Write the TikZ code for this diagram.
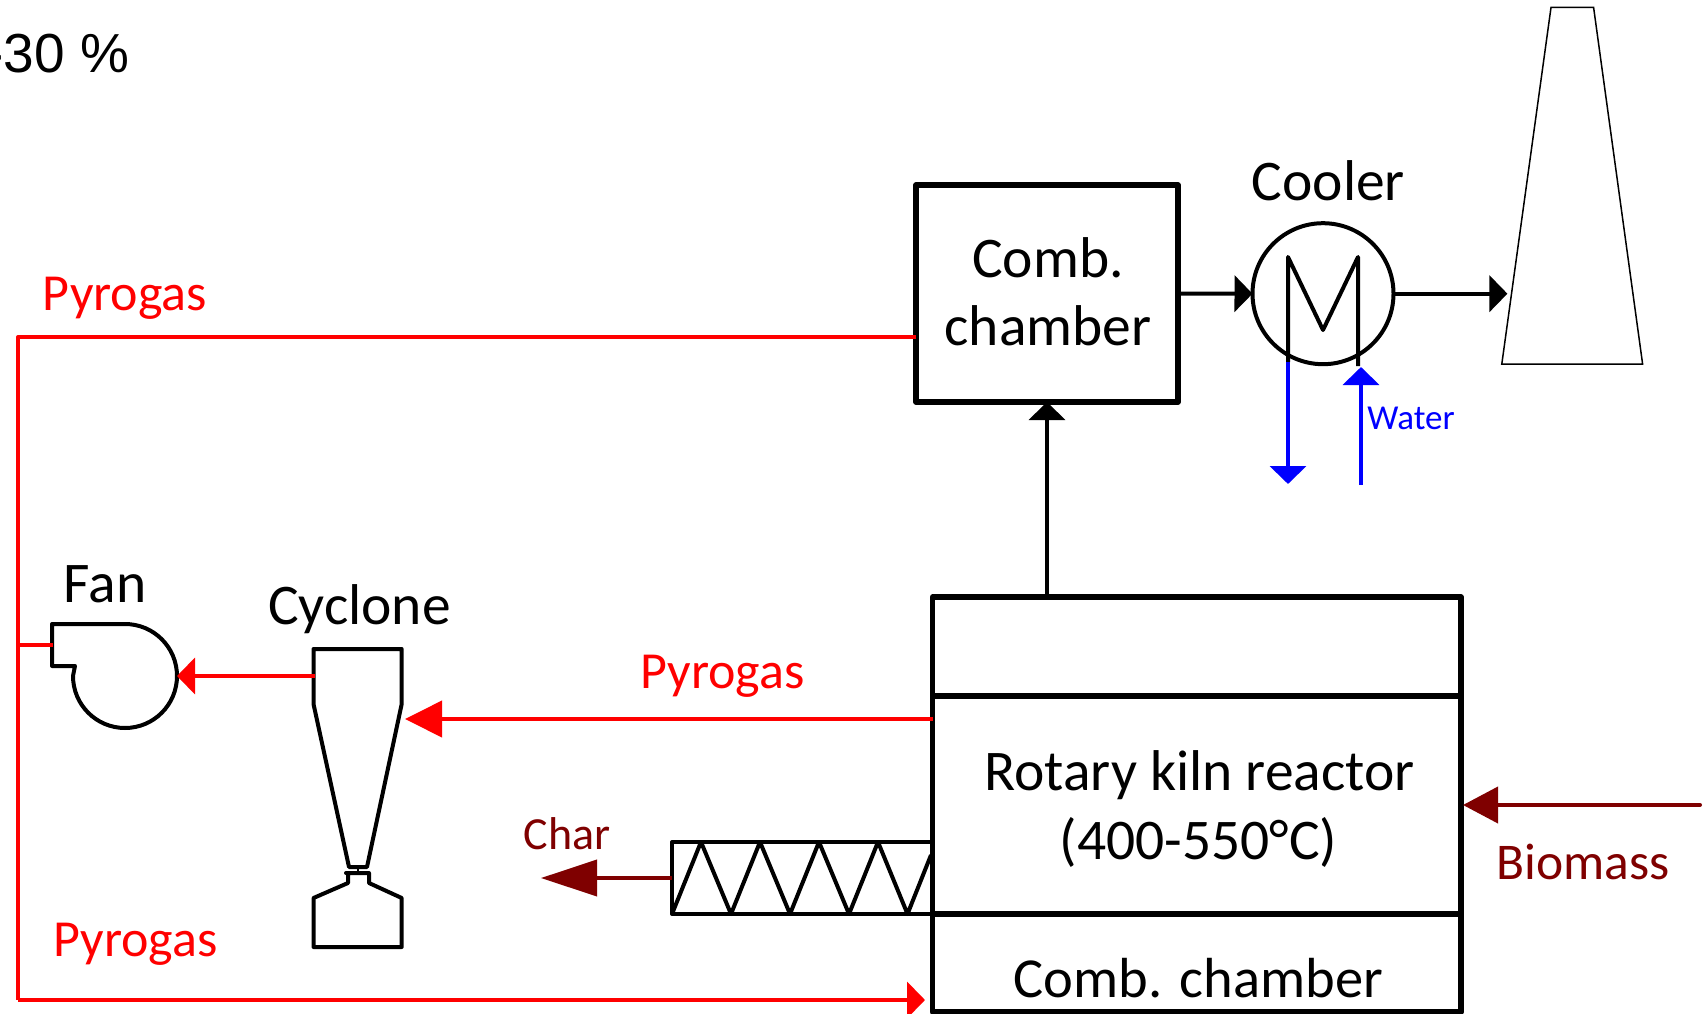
\documentclass[tikz,border=0pt]{standalone}
\usepackage{fontspec}
\setmainfont{Carlito}
\newfontfamily\arialfont{Liberation Sans}
\usetikzlibrary{arrows.meta}
\definecolor{maroonc}{HTML}{7F0000}
\definecolor{bluec}{HTML}{0000FF}
\definecolor{redc}{HTML}{FF0000}
\tikzset{
  x=1pt,y=-1pt,
  boxs/.style={draw=black,line width=5.2pt,inner sep=0pt,outer sep=0pt,line join=round,fill=white},
  shapes/.style={draw=black,line width=4pt,line join=round},
  big/.style={anchor=base,inner sep=0pt,outer sep=0pt,font=\fontsize{57.5}{66}\selectfont},
  lab/.style={anchor=base,inner sep=0pt,outer sep=0pt,font=\fontsize{52}{60}\selectfont,text=redc},
  small/.style={anchor=base,inner sep=0pt,outer sep=0pt},
  flow/.style={line width=#1,-{Triangle[length=18pt,width=36pt]}},
  flow/.default=4pt,
}
\begin{document}
\begin{tikzpicture}
\useasboundingbox (0,0) rectangle (1706,1014);
% coordinates
\coordinate (tl) at (18,337);
\coordinate (bl) at (18,1000);
\coordinate (junc) at (18,645);
\coordinate (fanout) at (53,645);
\coordinate (fanin) at (177,676);
\coordinate (cycout) at (315,676);
\coordinate (cycin) at (405,719);
\coordinate (bioS) at (1700,805);
\coordinate (charS) at (672,878);
\coordinate (charE) at (541,878);
\coordinate (wOutS) at (1288,362);
\coordinate (wOutE) at (1288,484);
\coordinate (wInS) at (1361,485);
\coordinate (wInE) at (1361,367);
\coordinate (stackin) at (1507.4,293.7);
% boxes
\node[boxs,minimum width=262pt,minimum height=217pt] (comb) at (1047,293.5) {};
\node[boxs,minimum width=528.4pt,minimum height=99pt] (kilntop) at (1196.8,646.5) {};
\node[boxs,minimum width=528.4pt,minimum height=218pt] (kilnmid) at (1196.8,805) {};
\node[boxs,minimum width=528.4pt,minimum height=98pt] (kilnbot) at (1196.8,963) {};
% screw
\draw[shapes] (kilnmid.south west) -- (672,914) -- (672,842) -- (932.6,842);
\draw[shapes] (672,914) -- (701,842) -- (731,914) -- (760,842) -- (790,914) -- (819,842) -- (849,914) -- (878,842) -- (907.5,914) -- (931,855);
% fan
\draw[shapes] (52,624) -- (125,624) arc[start angle=90,end angle=-180,radius=52pt] -- (75,666) -- (52,666) -- cycle;
% cyclone
\draw[shapes] (313.5,649) -- (401.7,649) -- (401.7,704) -- (367,867) -- (349,867) -- (313.5,704) -- cycle;
\draw[line width=2pt] (358,867) -- (358,873);
\draw[shapes] (346,873) -- (369,873) -- (369,883) -- (401.7,898) -- (401.7,947) -- (313.5,947) -- (313.5,898) -- (348,883) -- (348,873) -- cycle;
% cooler
\node[draw=black,line width=4pt,circle,minimum size=141pt,inner sep=0pt,outer sep=0pt] (cooler) at (1323,293.7) {};
\draw[shapes] (1288,362) -- (1288,257) -- (1323,330) -- (1358,257) -- (1358,366);
% stack
\draw[line width=1.5pt,line join=miter] (1551,7.5) -- (1593.6,7.5) -- (1642.6,364) -- (1501.8,364) -- cycle;
% connectors
\draw[draw=redc,line width=4pt,line join=round] (comb.west |- tl) -- (tl) -- (bl);
\draw[draw=redc,fill=redc,flow] (bl) -- (925,1000);
\draw[draw=redc,line width=4pt] (junc) -- (fanout);
\draw[draw=redc,fill=redc,flow] (cycout) -- (fanin);
\draw[draw=redc,fill=redc,line width=4pt,-{Triangle[length=37pt,width=36pt]}] (kilnmid.west |- cycin) -- (cycin);
\draw[draw=black,fill=black,flow] (kilntop.north -| comb.south) -- (comb.south);
\draw[draw=black,fill=black,flow] (comb.east) -- (cooler.west);
\draw[draw=black,fill=black,flow] (cooler.east) -- (stackin);
\draw[draw=bluec,fill=bluec,flow] (wOutS) -- (wOutE);
\draw[draw=bluec,fill=bluec,flow] (wInS) -- (wInE);
\draw[draw=maroonc,fill=maroonc,line width=4pt,line cap=round,-{Triangle[length=35pt,width=36pt]}] (bioS) -- (1463,805);
\draw[draw=maroonc,fill=maroonc,line width=4pt,-{Triangle[length=56pt,width=36pt]}] (charS) -- (charE);
% labels
\node[big] (tcomb1) at (1048,277.2) {Comb.};
\node[big] (tcomb2) at (1048,345.5) {chamber};
\node[big] (tkiln1) at (1199.5,790) {Rotary kiln reactor};
\node[big] (tkiln2) at (1198.5,859) {(400-550°C)};
\node[big,font=\fontsize{56.5}{66}\selectfont] (tkiln3) at (1198.5,997) {Comb. chamber};
\node[big] (tcooler) at (1328.5,200.5) {Cooler};
\node[big] (tfan) at (105,602) {Fan};
\node[big] (tcyc) at (359.5,624) {Cyclone};
\node[lab] (py1) at (125,310) {Pyrogas};
\node[lab] (py2) at (722.5,688) {Pyrogas};
\node[lab] (py3) at (135.5,956) {Pyrogas};
\node[small,text=bluec,font=\fontsize{35}{40}\selectfont] (twater) at (1411,429) {Water};
\node[small,text=maroonc,font=\fontsize{51.5}{60}\selectfont] (tbio) at (1583,879) {Biomass};
\node[small,text=maroonc,font=\fontsize{46}{54}\selectfont] (tchar) at (567,849) {Char};
\node[small,anchor=base east,font=\fontsize{55}{60}\selectfont\arialfont] (tpct) at (129,72.5) {-30 \%};
\end{tikzpicture}
\end{document}
